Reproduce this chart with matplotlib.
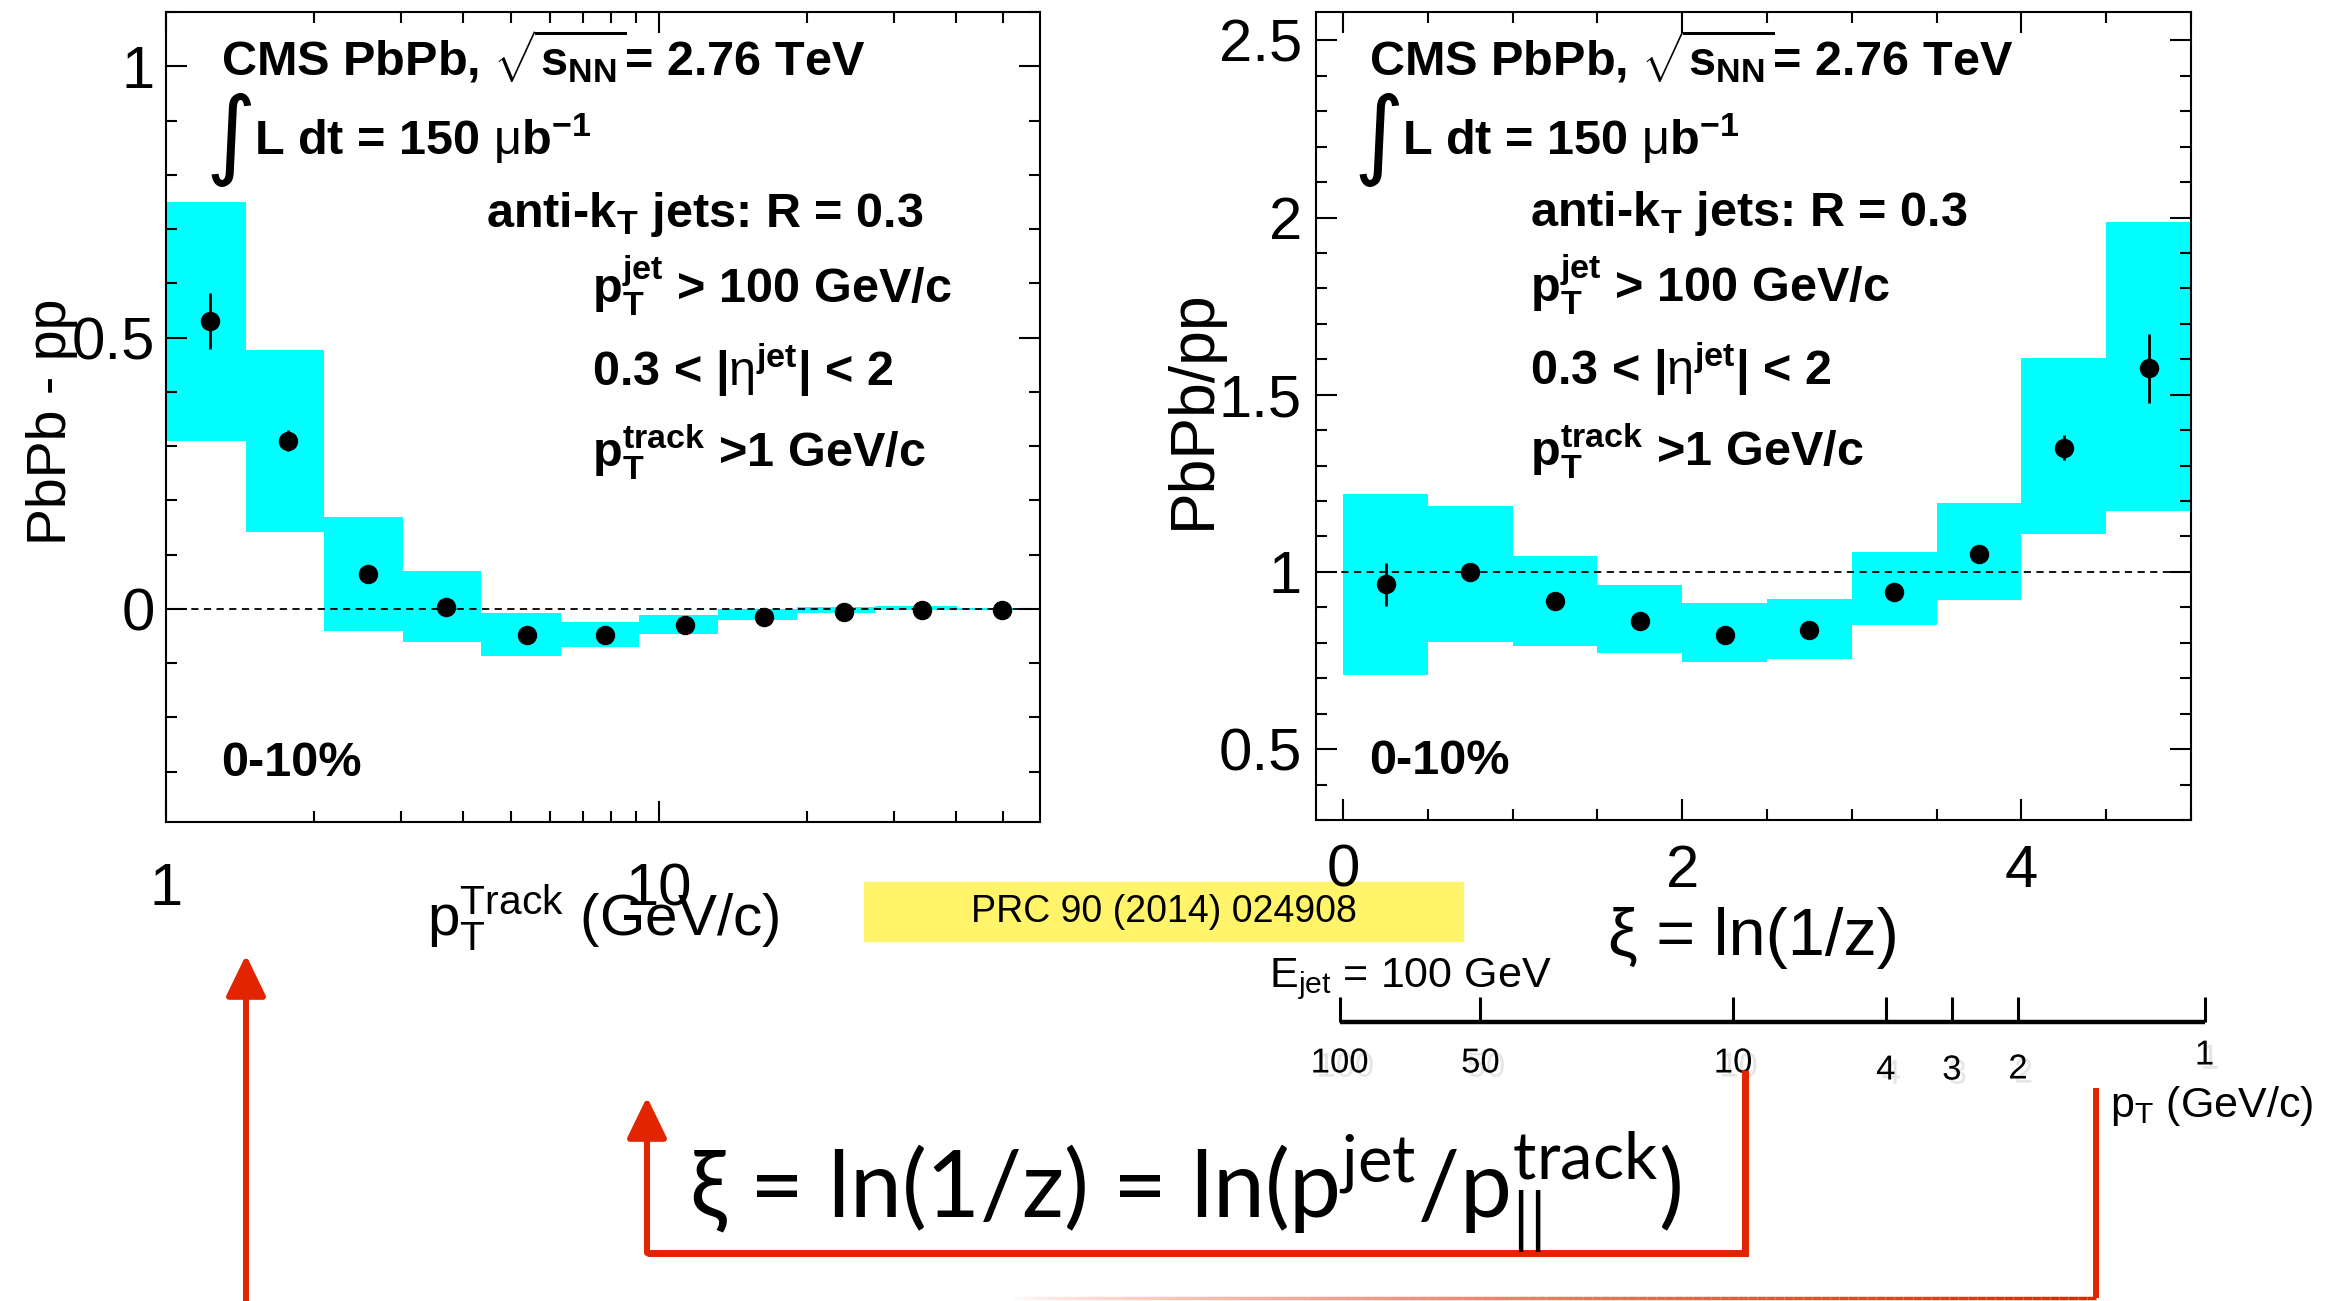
import numpy as np
import matplotlib
matplotlib.use("Agg")
import matplotlib.pyplot as plt
from matplotlib.ticker import MultipleLocator, FixedLocator, NullFormatter, FormatStrFormatter
from matplotlib.patches import Rectangle, FancyArrowPatch
from matplotlib.lines import Line2D
from matplotlib.collections import LineCollection
import matplotlib.patheffects as pe

# left panel: PbPb - pp vs track pT (log x)
pt_edges = [1.0, 1.45, 2.09, 3.03, 4.36, 6.33, 9.10, 13.2, 19.1, 27.5, 40.2, 59.3]
pt_centers = [1.23, 1.77, 2.57, 3.70, 5.41, 7.76, 11.3, 16.3, 23.7, 34.2, 49.6]
diff_vals = [0.53, 0.31, 0.065, 0.003, -0.048, -0.048, -0.030, -0.015, -0.006, -0.002, -0.002]
diff_stat = [0.052, 0.02, 0.008, 0.005, 0.004, 0.004, 0.003, 0.002, 0.001, 0.001, 0.001]
diff_sys_lo = [0.309, 0.142, -0.041, -0.061, -0.087, -0.070, -0.046, -0.021, -0.008, -0.003, -0.002]
diff_sys_hi = [0.750, 0.477, 0.169, 0.070, -0.007, -0.025, -0.011, 0.0, 0.003, 0.006, 0.002]

# right panel: PbPb/pp vs xi
xi_edges = [0.0, 0.5, 1.0, 1.5, 2.0, 2.5, 3.0, 3.5, 4.0, 4.5, 5.0]
xi_centers = [0.25, 0.75, 1.25, 1.75, 2.25, 2.75, 3.25, 3.75, 4.25, 4.75]
ratio_vals = [0.965, 1.0, 0.917, 0.861, 0.823, 0.836, 0.943, 1.05, 1.35, 1.575]
ratio_stat = [0.06, 0.02, 0.012, 0.012, 0.01, 0.01, 0.012, 0.015, 0.035, 0.097]
ratio_sys_lo = [0.708, 0.802, 0.790, 0.770, 0.746, 0.753, 0.849, 0.920, 1.107, 1.171]
ratio_sys_hi = [1.219, 1.186, 1.044, 0.963, 0.912, 0.925, 1.056, 1.195, 1.605, 1.988]

# hand drawn pT scale under the xi axis (label, xi where it was drawn)
pt_scale_labels = ["100", "50", "10", "4", "3", "2", "1"]
pt_scale_xi = [-0.02, 0.81, 2.30, 3.20, 3.59, 3.98, 5.08]

W, H = 2339, 1301
RED = "#E22400"
CYAN = "#00FFFF"


def fx(px):
    return px / W


def fy(py):
    return 1 - py / H


plt.rcParams["font.family"] = ["Liberation Sans", "DejaVu Sans"]
plt.rcParams["mathtext.fontset"] = "custom"
plt.rcParams["mathtext.rm"] = "Liberation Sans"
plt.rcParams["mathtext.it"] = "Liberation Sans:italic"
plt.rcParams["mathtext.bf"] = "Liberation Sans:bold"

fig = plt.figure(figsize=(W / 100, H / 100), dpi=100)
fig.patch.set_facecolor("white")

ax1 = fig.add_axes([fx(166), fy(822), (1040 - 166) / W, 810 / H])
ax2 = fig.add_axes([fx(1316), fy(820), (2191 - 1316) / W, 808 / H])


def draw_panel(ax, edges, centers, vals, stat, lo, hi, ref):
    edges = np.array(edges)
    lo = np.array(lo)
    hi = np.array(hi)
    ax.bar(edges[:-1], hi - lo, bottom=lo, width=np.diff(edges), align="edge",
           color=CYAN, linewidth=0, zorder=1)
    ax.axhline(ref, color="black", lw=1.3, ls=(0, (4, 3)), zorder=2)
    ax.errorbar(centers, vals, yerr=stat, fmt="o", color="black", ms=13,
                elinewidth=2, capsize=0, zorder=3)
    for s in ax.spines.values():
        s.set_linewidth(1.5)
    ax.tick_params(which="both", direction="in", top=True, right=True,
                   labelsize=43, width=1.5)
    ax.tick_params(which="major", length=15)
    ax.tick_params(which="minor", length=8)


draw_panel(ax1, pt_edges, pt_centers, diff_vals, diff_stat, diff_sys_lo, diff_sys_hi, 0.0)
ax1.set_xscale("log")
ax1.set_xlim(1, 59.3)
ax1.set_ylim(-0.393, 1.1)
ax1.xaxis.set_major_locator(FixedLocator([1, 10]))
ax1.set_xticklabels(["1", "10"])
ax1.xaxis.set_minor_locator(FixedLocator([2, 3, 4, 5, 6, 7, 8, 9, 20, 30, 40, 50]))
ax1.xaxis.set_minor_formatter(NullFormatter())
ax1.yaxis.set_major_locator(FixedLocator([0, 0.5, 1]))
ax1.yaxis.set_major_formatter(FormatStrFormatter("%g"))
ax1.yaxis.set_minor_locator(MultipleLocator(0.1))
ax1.tick_params(axis="x", pad=29)
ax1.tick_params(axis="y", pad=8)

draw_panel(ax2, xi_edges, xi_centers, ratio_vals, ratio_stat, ratio_sys_lo, ratio_sys_hi, 1.0)
ax2.set_xlim(-0.16, 5.0)
ax2.set_ylim(0.30, 2.58)
ax2.xaxis.set_major_locator(FixedLocator([0, 2, 4]))
ax2.xaxis.set_minor_locator(MultipleLocator(0.5))
ax2.yaxis.set_major_locator(MultipleLocator(0.5))
ax2.yaxis.set_major_formatter(FormatStrFormatter("%g"))
ax2.yaxis.set_minor_locator(MultipleLocator(0.1))
ax2.tick_params(axis="x", pad=17)
ax2.tick_params(axis="y", pad=10)

# axis titles
ax1.set_ylabel("PbPb - pp", fontsize=40, va="center")
ax1.yaxis.set_label_coords(-0.130, 0.494)
ax2.set_ylabel("PbPb/pp", fontsize=45, va="center")
ax2.yaxis.set_label_coords(-0.1406, 0.509)
ax1.set_xlabel(r"p$_{\mathdefault{T}}^{\mathdefault{Track}}$ (GeV/c)", fontsize=42, va="baseline")
ax1.xaxis.set_label_coords(0.5, (822 - 935) / 810)
ax2.set_xlabel("ξ = ln(1/z)", fontsize=48, va="baseline")
ax2.xaxis.set_label_coords(0.5, (820 - 955) / 808)

# CMS labels inside the panels
t_cms = r"CMS PbPb, $\sqrt{\mathdefault{s}_{\mathdefault{NN}}}$= 2.76 TeV"
t_lumi = r"L dt = 150 $\mathrm{\mu}$b$^{\mathdefault{-1}}$"
t_jets = r"anti-k$_{\mathdefault{T}}$ jets: R = 0.3"
t_ptjet = r"p$_{\mathdefault{T}}^{\mathdefault{jet}}$ > 100 GeV/c"
t_eta = r"0.3 < |$\mathrm{\eta}^{\mathdefault{jet}}$| < 2"
t_pttrk = r"p$_{\mathdefault{T}}^{\mathdefault{track}}$ >1 GeV/c"


def cms_text(ax, x_left, x_jets, x_cuts):
    kw = dict(transform=ax.transAxes, fontsize=35, fontweight="bold", va="baseline", ha="left")
    ax.text(x_left, 0.922, t_cms, **kw)
    ax.text(x_left + 0.011, 0.842, "∫", transform=ax.transAxes, fontsize=70,
            family=["DejaVu Sans"], ha="center", va="center")
    ax.text(x_left + 0.038, 0.8235, t_lumi, **kw)
    ax.text(x_jets, 0.7346, t_jets, **kw)
    ax.text(x_cuts, 0.6407, t_ptjet, **kw)
    ax.text(x_cuts, 0.538, t_eta, **kw)
    ax.text(x_cuts, 0.438, t_pttrk, **kw)
    ax.text(x_left, 0.0568, "0-10%", **kw)


cms_text(ax1, 0.063, 0.366, 0.487)
cms_text(ax2, 0.0606, 0.2446, 0.2446)

# reference box
fig.add_artist(Rectangle((fx(864), fy(941)), (1463 - 864) / W, (941 - 882) / H,
                         transform=fig.transFigure, color="#FFF46A", zorder=0))
fig.text(fx(1164), fy(912), "PRC 90 (2014) 024908", fontsize=27, ha="center", va="center")

# hand drawn pT scale below the xi axis
axp = fig.add_axes([fx(1316), fy(1022), (2191 - 1316) / W, 25 / H])
axp.set_xlim(ax2.get_xlim())
axp.set_ylim(0, 1)
axp.axis("off")
axp.plot([pt_scale_xi[0], pt_scale_xi[-1]], [0, 0], color="black", lw=3.2,
         solid_capstyle="butt", clip_on=False)
axp.vlines(pt_scale_xi, 0, 1, color="black", lw=2.2, clip_on=False)
label_dy = [-1.64, -1.64, -1.64, -1.92, -1.92, -1.88, -1.32]
shadow = [pe.withSimplePatchShadow(offset=(4, -3), shadow_rgbFace="0.9", alpha=1.0)]
for lab, xv, dy in zip(pt_scale_labels, pt_scale_xi, label_dy):
    axp.text(xv, dy, lab, fontsize=25, ha="center", va="center", clip_on=False,
             path_effects=shadow)
fig.text(fx(1269), fy(987), r"E$_{\mathdefault{jet}}$ = 100 GeV", fontsize=31,
         ha="left", va="baseline")
fig.text(fx(2110), fy(1117), r"p$_{\mathdefault{T}}$ (GeV/c)", fontsize=31,
         ha="left", va="baseline")

# big formula
fig.text(fx(689), fy(1217), r"ξ = ln(1/z) = ln(p$^{\mathdefault{jet}}$/p$_{\mathdefault{||}}^{\mathdefault{track}}$)",
         fontsize=67, family=["Lato", "DejaVu Sans"], ha="left", va="baseline")


# red connectors
def red_line(xs, ys, lw=4.3):
    fig.add_artist(Line2D([fx(x) for x in xs], [fy(y) for y in ys], transform=fig.transFigure,
                          color=RED, lw=lw, solid_capstyle="butt", solid_joinstyle="miter"))


def red_arrow(x, y0, y1):
    fig.add_artist(FancyArrowPatch((fx(x), fy(y0)), (fx(x), fy(y1)), transform=fig.transFigure,
                                   arrowstyle="-|>,head_length=1.4,head_width=0.68",
                                   mutation_scale=18, color=RED, lw=4.3,
                                   shrinkA=0, shrinkB=0))


red_arrow(246, 1301, 955)
red_line([1745, 1745, 647], [1070, 1253, 1253], lw=5)
red_arrow(647, 1253, 1097)
red_line([2096, 2096], [1088, 1298])

# fading line along the bottom
xs = np.linspace(1005, 2096, 120)
segs = [[(fx(a), fy(1298)), (fx(b), fy(1298))] for a, b in zip(xs[:-1], xs[1:])]
fade = np.linspace(0, 1, len(segs)) ** 0.7
cols = [(0.886, 0.14, 0.0, f) for f in fade]
fig.add_artist(LineCollection(segs, colors=cols, linewidths=2.5, transform=fig.transFigure))

fig.savefig("out.png", dpi=100)
